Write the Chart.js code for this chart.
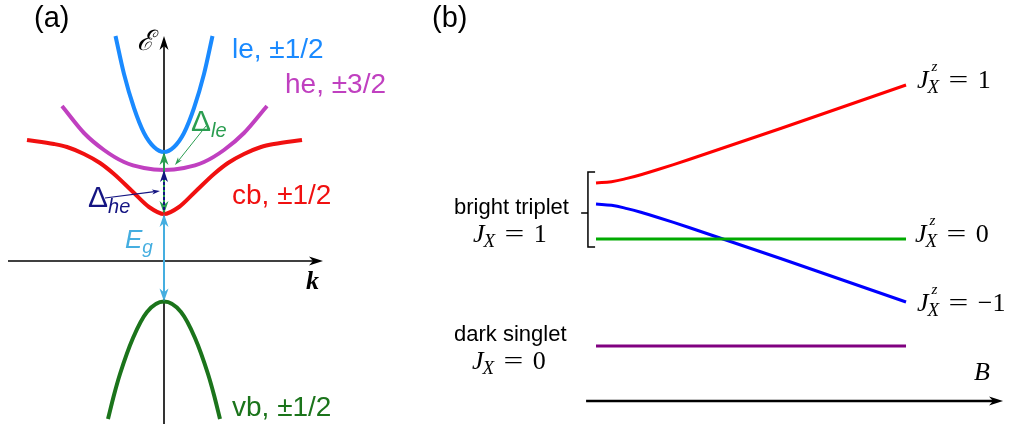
<!DOCTYPE html>
<html>
<head>
<meta charset="utf-8">
<script src="https://cdn.jsdelivr.net/npm/chart.js@4/dist/chart.umd.min.js"></script>
<style>
html,body{margin:0;padding:0;background:#fff;width:1017px;height:424px;overflow:hidden;position:relative}
canvas{position:absolute;top:0}
#chartA{left:0}
#chartB{left:430px}
.t{position:absolute;white-space:nowrap;line-height:1;font-family:"Liberation Sans",Arial,sans-serif;color:#000}
.m{font-family:"Liberation Serif","Times New Roman",serif;font-size:26px}
.mi{font-style:italic}
.scr{position:relative;display:inline-block;font-style:italic;font-size:19px;top:5px;margin-left:-1px}
.sup{position:absolute;left:4px;top:-18px;font-size:15px;font-style:italic}
.eq{display:inline-block;margin:0 12px;transform:scaleX(1.35)}
.sub{font-style:italic;font-size:20px;position:relative}
</style>
</head>
<body>
<canvas id="chartA" width="430" height="424"></canvas>
<canvas id="chartB" width="587" height="424"></canvas>

<div class="t" style="left:34px;top:3px;font-size:29px">(a)</div>
<div class="t" style="left:137px;top:27px;font-size:28px;font-family:'DejaVu Serif',serif;font-style:italic">ℰ</div>
<div class="t" id="lbLe" style="left:232px;top:35px;font-size:28px;color:#1a8aff"></div>
<div class="t" id="lbHe" style="left:285px;top:70px;font-size:28px;color:#c040c0"></div>
<div class="t" id="lbCb" style="left:232px;top:181px;font-size:28px;color:#f01010"></div>
<div class="t" id="lbVb" style="left:232px;top:393px;font-size:28px;color:#1b741b"></div>
<div class="t" style="left:191px;top:106px;font-size:30px;color:#2a9d50">Δ<span class="sub" style="top:6px">le</span></div>
<div class="t" style="left:88px;top:182px;font-size:30px;color:#141482">Δ<span class="sub" style="top:6px">he</span></div>
<div class="t" style="left:125px;top:226px;font-size:26px;color:#45aee0;font-style:italic">E<span style="font-size:19px;position:relative;top:5px">g</span></div>
<div class="t m" style="left:306px;top:268px;font-weight:bold;font-style:italic">k</div>

<div class="t" style="left:432px;top:3px;font-size:29px">(b)</div>
<div class="t" style="left:454px;top:196px;font-size:22px">bright triplet</div>
<div class="t m" style="left:473px;top:221px"><span class="mi">J</span><span class="scr">X</span><span class="eq">=</span>1</div>
<div class="t" style="left:454px;top:323px;font-size:22px">dark singlet</div>
<div class="t m" style="left:472px;top:348px"><span class="mi">J</span><span class="scr">X</span><span class="eq">=</span>0</div>
<div class="t m" style="left:917px;top:67px"><span class="mi">J</span><span class="scr"><span class="sup">z</span>X</span><span class="eq">=</span>1</div>
<div class="t m" style="left:915px;top:221px"><span class="mi">J</span><span class="scr"><span class="sup">z</span>X</span><span class="eq">=</span>0</div>
<div class="t m" style="left:917px;top:290px"><span class="mi">J</span><span class="scr"><span class="sup">z</span>X</span><span class="eq">=</span>−1</div>
<div class="t m mi" style="left:974px;top:359px">B</div>

<script>
// ---------- Panel (a): band dispersions E(k), arbitrary units ----------
const bandLabels = ['le, ±1/2', 'he, ±3/2', 'cb, ±1/2', 'vb, ±1/2'];
const kLe = [-0.485, -0.4, -0.3, -0.2, -0.1, 0, 0.1, 0.2, 0.3, 0.4, 0.485];
const eLe = [2.25, 1.87, 1.53, 1.28, 1.14, 1.09, 1.14, 1.28, 1.53, 1.87, 2.25];
const kHe = [-1.02, -0.8, -0.6, -0.4, -0.2, 0, 0.2, 0.4, 0.6, 0.8, 1.03];
const eHe = [1.55, 1.28, 1.11, 0.99, 0.93, 0.91, 0.93, 0.99, 1.11, 1.28, 1.55];
const kCb = [-1.37, -1.1, -0.97, -0.8, -0.64, -0.5, -0.31, -0.15, 0, 0.15, 0.31, 0.5, 0.64, 0.8, 0.97, 1.1, 1.38];
const eCb = [1.21, 1.17, 1.14, 1.07, 0.98, 0.87, 0.69, 0.54, 0.47, 0.54, 0.69, 0.87, 0.98, 1.07, 1.14, 1.17, 1.21];
const kVb = [-0.56, -0.5, -0.44, -0.31, -0.17, 0, 0.17, 0.31, 0.44, 0.5, 0.56];
const eVb = [-1.58, -1.34, -1.13, -0.77, -0.51, -0.405, -0.51, -0.77, -1.13, -1.34, -1.58];

// ---------- Panel (b): exciton levels vs magnetic field ----------
const stateLabels = ['J_X^z = 1', 'J_X^z = 0', 'J_X^z = −1', 'dark singlet J_X = 0'];
const bField = [0, 0.05, 0.1, 0.15, 0.2, 0.3, 0.4, 0.6, 0.8, 1.0];
const ePlus  = [0.56, 0.573, 0.606, 0.648, 0.695, 0.795, 0.90, 1.11, 1.325, 1.54];
const eZero  = [0, 0, 0, 0, 0, 0, 0, 0, 0, 0];
const eMinus = [0.35, 0.337, 0.304, 0.262, 0.215, 0.115, 0.01, -0.20, -0.415, -0.63];
const eDark  = [-1.07, -1.07, -1.07, -1.07, -1.07, -1.07, -1.07, -1.07, -1.07, -1.07];

document.getElementById('lbLe').textContent = bandLabels[0];
document.getElementById('lbHe').textContent = bandLabels[1];
document.getElementById('lbCb').textContent = bandLabels[2];
document.getElementById('lbVb').textContent = bandLabels[3];

const xy = (xs, ys) => xs.map((x, i) => ({x, y: ys[i]}));

function head(ctx, x, y, ang, len, wid, color) {
  ctx.save();
  ctx.translate(x, y);
  ctx.rotate(ang);
  ctx.beginPath();
  ctx.moveTo(0, 0);
  ctx.lineTo(-len, -wid / 2);
  ctx.lineTo(-len * 0.72, 0);
  ctx.lineTo(-len, wid / 2);
  ctx.closePath();
  ctx.fillStyle = color;
  ctx.fill();
  ctx.restore();
}
function arrow(ctx, x1, y1, x2, y2, o) {
  const ang = Math.atan2(y2 - y1, x2 - x1);
  const cut = o.len * 0.7;
  const sx = o.h1 ? x1 + Math.cos(ang) * cut : x1, sy = o.h1 ? y1 + Math.sin(ang) * cut : y1;
  const ex = o.h2 ? x2 - Math.cos(ang) * cut : x2, ey = o.h2 ? y2 - Math.sin(ang) * cut : y2;
  ctx.save();
  ctx.strokeStyle = o.color;
  ctx.lineWidth = o.width;
  if (o.dash) ctx.setLineDash(o.dash);
  ctx.beginPath();
  ctx.moveTo(sx, sy);
  ctx.lineTo(ex, ey);
  ctx.stroke();
  ctx.restore();
  if (o.h2) head(ctx, x2, y2, ang, o.len, o.wid, o.color);
  if (o.h1) head(ctx, x1, y1, ang + Math.PI, o.len, o.wid, o.color);
}

const baseOpts = (xmin, xmax, ymin, ymax, mode) => ({
  responsive: false,
  animation: false,
  events: [],
  layout: {padding: 0},
  plugins: {legend: {display: false}, tooltip: {enabled: false}},
  scales: {
    x: {type: 'linear', min: xmin, max: xmax, display: false},
    y: {type: 'linear', min: ymin, max: ymax, display: false}
  },
  elements: {point: {radius: 0}, line: {cubicInterpolationMode: mode, tension: 0.4, borderCapStyle: 'butt'}}
});

const axisK = [-1.56, 1.59];
const axisE = [-1.63, 2.25];

const panelA = {
  id: 'panelA',
  beforeDatasetsDraw(chart) {
    const {ctx, scales: {x, y}} = chart;
    const X = v => x.getPixelForValue(v), Y = v => y.getPixelForValue(v);
    arrow(ctx, X(axisK[0]), Y(0), X(axisK[1]), Y(0), {color: '#000', width: 1.6, h2: true, len: 14, wid: 9});
    arrow(ctx, X(0), Y(axisE[0]), X(0), Y(axisE[1]), {color: '#000', width: 1.6, h2: true, len: 14, wid: 9});
  },
  afterDatasetsDraw(chart) {
    const {ctx, scales: {x, y}} = chart;
    const X = v => x.getPixelForValue(v), Y = v => y.getPixelForValue(v);
    const eLeMin = eLe[5], eHeMin = eHe[5], eCbMin = eCb[8], eVbMax = eVb[5];
    arrow(ctx, X(0), Y(eCbMin), X(0), Y(eVbMax), {color: '#45aee0', width: 2, h1: true, h2: true, len: 13, wid: 9});
    arrow(ctx, X(0), Y(eCbMin), X(0), Y(eLeMin), {color: '#2a9d50', width: 2, h1: true, h2: true, len: 13, wid: 9});
    arrow(ctx, X(0), Y(eCbMin + 0.04), X(0), Y(eHeMin), {color: '#141482', width: 2, dash: [3, 2], h2: true, len: 12, wid: 8});
    arrow(ctx, X(0.42), Y(1.35), X(0.11), Y(0.96), {color: '#2a9d50', width: 1, h2: true, len: 8, wid: 5});
    arrow(ctx, X(-0.59), Y(0.63), X(-0.04), Y(0.70), {color: '#141482', width: 1.2, h2: true, len: 8, wid: 5});
  }
};

new Chart(document.getElementById('chartA'), {
  type: 'line',
  data: {
    datasets: [
      {label: bandLabels[3], data: xy(kVb, eVb), borderColor: '#1b741b', borderWidth: 4},
      {label: bandLabels[2], data: xy(kCb, eCb), borderColor: '#f01010', borderWidth: 4},
      {label: bandLabels[1], data: xy(kHe, eHe), borderColor: '#c040c0', borderWidth: 4},
      {label: bandLabels[0], data: xy(kLe, eLe), borderColor: '#1a8aff', borderWidth: 4}
    ]
  },
  options: baseOpts(-1.64, 2.66, -1.63, 2.61, 'monotone'),
  plugins: [panelA]
});

const axisB = [-0.032, 1.313];
const axisBLevel = -1.62;
const bracket = {b: -0.026, serif: -0.003, tick: -0.048, top: 0.67, bottom: -0.08, mid: 0.26};

const panelB = {
  id: 'panelB',
  afterDatasetsDraw(chart) {
    const {ctx, scales: {x, y}} = chart;
    const X = v => x.getPixelForValue(v), Y = v => y.getPixelForValue(v);
    arrow(ctx, X(axisB[0]), Y(axisBLevel), X(axisB[1]), Y(axisBLevel), {color: '#000', width: 2.6, h2: true, len: 14, wid: 9});
    ctx.save();
    ctx.strokeStyle = '#000';
    ctx.lineWidth = 1.5;
    ctx.beginPath();
    ctx.moveTo(X(bracket.serif), Y(bracket.top));
    ctx.lineTo(X(bracket.b), Y(bracket.top));
    ctx.lineTo(X(bracket.b), Y(bracket.bottom));
    ctx.lineTo(X(bracket.serif), Y(bracket.bottom));
    ctx.moveTo(X(bracket.b), Y(bracket.mid));
    ctx.lineTo(X(bracket.tick), Y(bracket.mid));
    ctx.stroke();
    ctx.restore();
  }
};

new Chart(document.getElementById('chartB'), {
  type: 'line',
  data: {
    datasets: [
      {label: stateLabels[3], data: xy(bField, eDark), borderColor: '#800080', borderWidth: 3},
      {label: stateLabels[1], data: xy(bField, eZero), borderColor: '#00aa00', borderWidth: 3},
      {label: stateLabels[2], data: xy(bField, eMinus), borderColor: '#0000ff', borderWidth: 3},
      {label: stateLabels[0], data: xy(bField, ePlus), borderColor: '#ff0000', borderWidth: 3}
    ]
  },
  options: baseOpts(-0.5355, 1.358, -1.85, 2.39, 'default'),
  plugins: [panelB]
});
</script>
</body>
</html>
